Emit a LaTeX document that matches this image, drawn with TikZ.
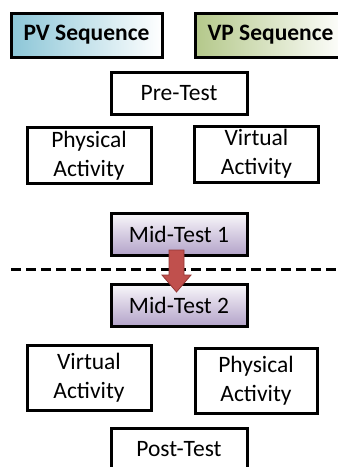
\documentclass[tikz,border=0pt]{standalone}
\usepackage{fontspec}
\setmainfont{Carlito}
\usetikzlibrary{calc}
\definecolor{pvblue}{HTML}{8CC6D7}
\definecolor{vpgreen}{HTML}{B4C88A}
\definecolor{midpurple}{HTML}{B3A3C9}
\definecolor{arrowred}{HTML}{C0504D}
\definecolor{arrowedge}{HTML}{943634}
\begin{document}
\begin{tikzpicture}[x=1pt,y=-1pt,
  box/.style={draw=black,line width=3pt,fill=white,font=\fontsize{23.5}{29}\selectfont,
    align=center,inner sep=0pt,outer sep=0pt},
  seqbox/.style={box,font=\fontsize{23.5}{28}\selectfont\bfseries,minimum width=151pt,minimum height=44pt},
  testbox/.style={box,minimum width=136pt,minimum height=42pt},
  actbox/.style={box,minimum width=124pt,minimum height=56pt},
  midbox/.style={testbox,top color=white!92!midpurple,bottom color=midpurple}]
\useasboundingbox (0,0) rectangle (338,467);
% sequence headers
\node[seqbox,left color=pvblue,right color=white] (pv) at (86.5,35) {PV Sequence};
\node[seqbox,left color=vpgreen,right color=white] (vp) at (270.5,35) {VP Sequence};
% first half
\node[testbox] (pre) at (179,93) {Pre-Test};
\node[actbox] (physA) at (89,155.5) {Physical\\Activity};
\node[actbox] (virtA) at (256.5,154) {Virtual\\Activity};
\node[midbox] (mid1) at (179,234) {Mid-Test 1};
% separator between the two halves
\coordinate (sepL) at (11,269);
\coordinate (sepR) at (345,269);
\draw[line width=3pt,dash pattern=on 10pt off 5pt] (sepL) -- (sepR);
% second half
\node[midbox] (mid2) at (179,305) {Mid-Test 2};
\node[actbox,minimum height=65pt] (virtB) at (89,377.5) {Virtual\\Activity};
\node[actbox,minimum width=122pt,minimum height=65pt] (physB) at (256,380.5) {Physical\\Activity};
\node[testbox] (post) at (179,449) {Post-Test};
% block arrow from Mid-Test 1 to Mid-Test 2
\draw[arrowedge,line width=0.8pt,fill=arrowred,line join=miter]
  ($(mid1.south)+(-10,-5)$) -- ($(mid1.south)+(5,-5)$) -- ($(mid1.south)+(5,20)$)
  -- ($(mid1.south)+(12,20)$) -- ($(mid2.north)+(-2.5,8)$) -- ($(mid1.south)+(-17,20)$)
  -- ($(mid1.south)+(-10,20)$) -- cycle;
\end{tikzpicture}
\end{document}
